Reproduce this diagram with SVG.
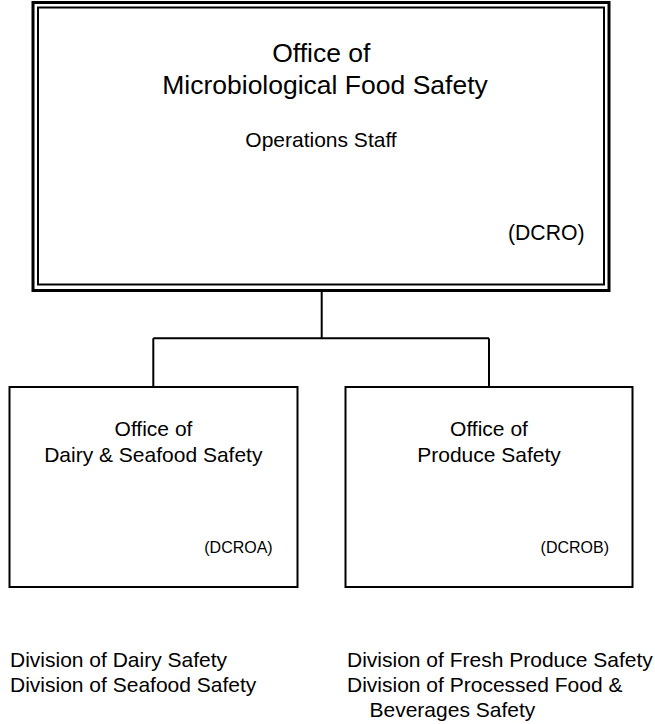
<svg xmlns="http://www.w3.org/2000/svg" width="655" height="724" viewBox="0 0 655 724">
<style>
text{font-family:"Liberation Sans",Arial,sans-serif;fill:#000}
.box{fill:#fff;stroke:#000;stroke-width:2}
.conn{fill:none;stroke:#000;stroke-width:2}
.t1{font-size:26.5px;text-anchor:middle}
.t2{font-size:21px;text-anchor:middle}
.code{font-size:21.2px;text-anchor:end}
.code2{font-size:16px;text-anchor:end}
.div{font-size:21px}
</style>
<rect width="655" height="724" fill="#fff"/>
<g id="connectors">
<path class="conn" d="M321.7 291V338.3M153.3 338.3H489M153.3 338.3V387M489 338.3V387"/>
</g>
<g id="top">
<rect x="33" y="2.5" width="576" height="288" fill="#fff" stroke="#000" stroke-width="3"/>
<rect x="38" y="7.5" width="566" height="277" fill="none" stroke="#000" stroke-width="2"/>
<text class="t1" x="321.3" y="61.7">Office of</text>
<text class="t1" x="325" y="93.5">Microbiological Food Safety</text>
<text class="t2" x="321" y="146.7">Operations Staff</text>
<text class="code" x="584.5" y="240">(DCRO)</text>
</g>
<g id="left">
<rect class="box" x="9.5" y="387" width="288" height="200"/>
<text class="t2" x="153.5" y="435.7">Office of</text>
<text class="t2" x="153.3" y="461.7">Dairy &amp; Seafood Safety</text>
<text class="code2" x="272.7" y="553">(DCROA)</text>
</g>
<g id="right">
<rect class="box" x="345.5" y="387" width="287" height="200"/>
<text class="t2" x="489" y="435.7">Office of</text>
<text class="t2" x="489" y="461.7">Produce Safety</text>
<text class="code2" x="609" y="553">(DCROB)</text>
</g>
<g id="labels">
<text class="div" x="10" y="667">Division of Dairy Safety</text>
<text class="div" x="10" y="692">Division of Seafood Safety</text>
<text class="div" x="347" y="667">Division of Fresh Produce Safety</text>
<text class="div" x="347" y="692">Division of Processed Food &amp;</text>
<text class="div" x="369.5" y="717">Beverages Safety</text>
</g>
</svg>
